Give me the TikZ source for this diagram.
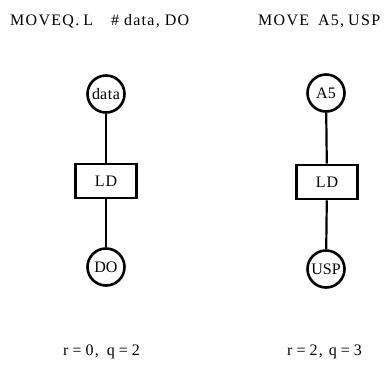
\documentclass[tikz,border=0pt]{standalone}
\usepackage{fontspec}
\setmainfont{Liberation Serif}
\begin{document}
\begin{tikzpicture}[x=1pt,y=-1pt,
  reg/.style={draw,circle,line width=2.6pt,minimum size=37pt,inner sep=0pt,font=\fontsize{16}{18}\selectfont},
  op/.style={draw,rectangle,line width=2.6pt,minimum width=61pt,minimum height=34pt,inner sep=0pt,font=\fontsize{16}{18}\selectfont\addfontfeatures{LetterSpace=6}},
  link/.style={line width=2.2pt},
  lab/.style={font=\fontsize{16}{18}\selectfont\addfontfeatures{LetterSpace=8},inner sep=0pt,anchor=base west}]
\useasboundingbox (0,0) rectangle (389,368);
\node[lab] (t1) at (10,25) {MOVEQ.\hspace{4pt}L\hspace{18pt}\#\hspace{5pt}data,\hspace{5pt}DO};
\node[lab] (t2) at (258,25) {MOVE\hspace{9pt}A5,\hspace{4pt}USP};
\node[reg] (a1) at (106,94) {d{\addfontfeatures{LetterSpace=4}ata}};
\node[op] (b1) at (106,181) {LD};
\node[reg] (c1) at (106,267) {DO};
\draw[link] (a1) -- (b1);
\draw[link] (b1) -- (c1);
\node[reg] (a2) at (326,93) {A5};
\node[op] (b2) at (327,182) {LD};
\node[reg] (c2) at (326,269) {USP};
\draw[link] (a2) -- (b2);
\draw[link] (b2) -- (c2);
\node[lab] (r1) at (63,355) {r\hspace{4pt}=\hspace{4pt}0,\hspace{8pt}q\hspace{4pt}=\hspace{4pt}2};
\node[lab] (r2) at (287,355) {r\hspace{4pt}=\hspace{4pt}2,\hspace{6pt}q\hspace{4pt}=\hspace{4pt}3};
\end{tikzpicture}
\end{document}
